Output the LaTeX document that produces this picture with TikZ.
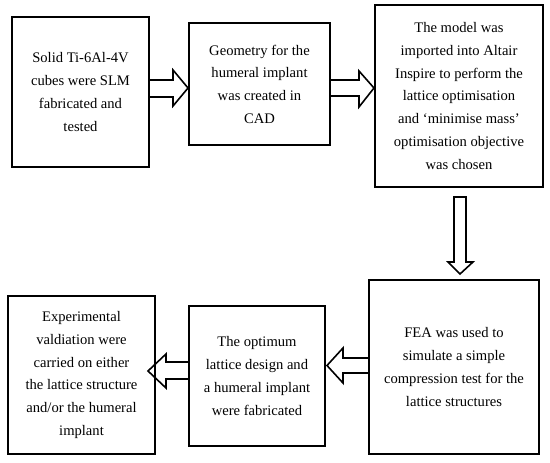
\documentclass[tikz,border=0pt]{standalone}
\usepackage{fontspec}
\setmainfont{Liberation Serif}
\begin{document}
\begin{tikzpicture}[x=1pt,y=-1pt,
  box/.style={draw,line width=2pt,rectangle,align=center,inner sep=0pt,
    font=\fontsize{14.6}{22.7}\selectfont},
  barrow/.style={draw,line width=1.6pt,line join=miter}]
\useasboundingbox (0,0) rectangle (550,463);
\node[box,minimum width=137pt,minimum height=150pt] (b1) at (80.5,92)
  {Solid Ti-6Al-4V\\cubes were SLM\\fabricated and\\tested};
\node[box,minimum width=141pt,minimum height=122pt] (b2) at (259.5,84)
  {Geometry for the\\humeral implant\\was created in\\CAD};
\node[box,minimum width=168pt,minimum height=182pt] (b3) at (459,96)
  {The model was\\imported into Altair\\Inspire to perform the\\lattice optimisation\\and ‘minimise mass’\\optimisation objective\\was chosen};
\node[box,minimum width=170pt,minimum height=174pt] (b4) at (454,367)
  {FEA was used to\\simulate a simple\\compression test for the\\lattice structures};
\node[box,minimum width=136pt,minimum height=140pt] (b5) at (257,376)
  {The optimum\\lattice design and\\a humeral implant\\were fabricated};
\node[box,minimum width=147pt,minimum height=158pt] (b6) at (81.5,375)
  {Experimental\\valdiation were\\carried on either\\the lattice structure\\and/or the humeral\\implant};
% block arrows
\draw[barrow] (b1.east|-0,80) -- (173,80) -- (173,70) -- (b2.west|-0,88)
  -- (173,106) -- (173,97) -- (b1.east|-0,97);
\draw[barrow] (b2.east|-0,80) -- (359,80) -- (359,71) -- (b3.west|-0,88)
  -- (359,107) -- (359,96) -- (b2.east|-0,96);
\draw[barrow] (454,197) -- (466,197) -- (466,262) -- (473,262) -- (460,274)
  -- (448,262) -- (454,262) -- cycle;
\draw[barrow] (b4.west|-0,358) -- (343,358) -- (343,348) -- (327,365.5)
  -- (343,383) -- (343,373) -- (b4.west|-0,373);
\draw[barrow] (b5.west|-0,362) -- (166,362) -- (166,354) -- (148,371)
  -- (166,388) -- (166,379) -- (b5.west|-0,379);
\end{tikzpicture}
\end{document}
